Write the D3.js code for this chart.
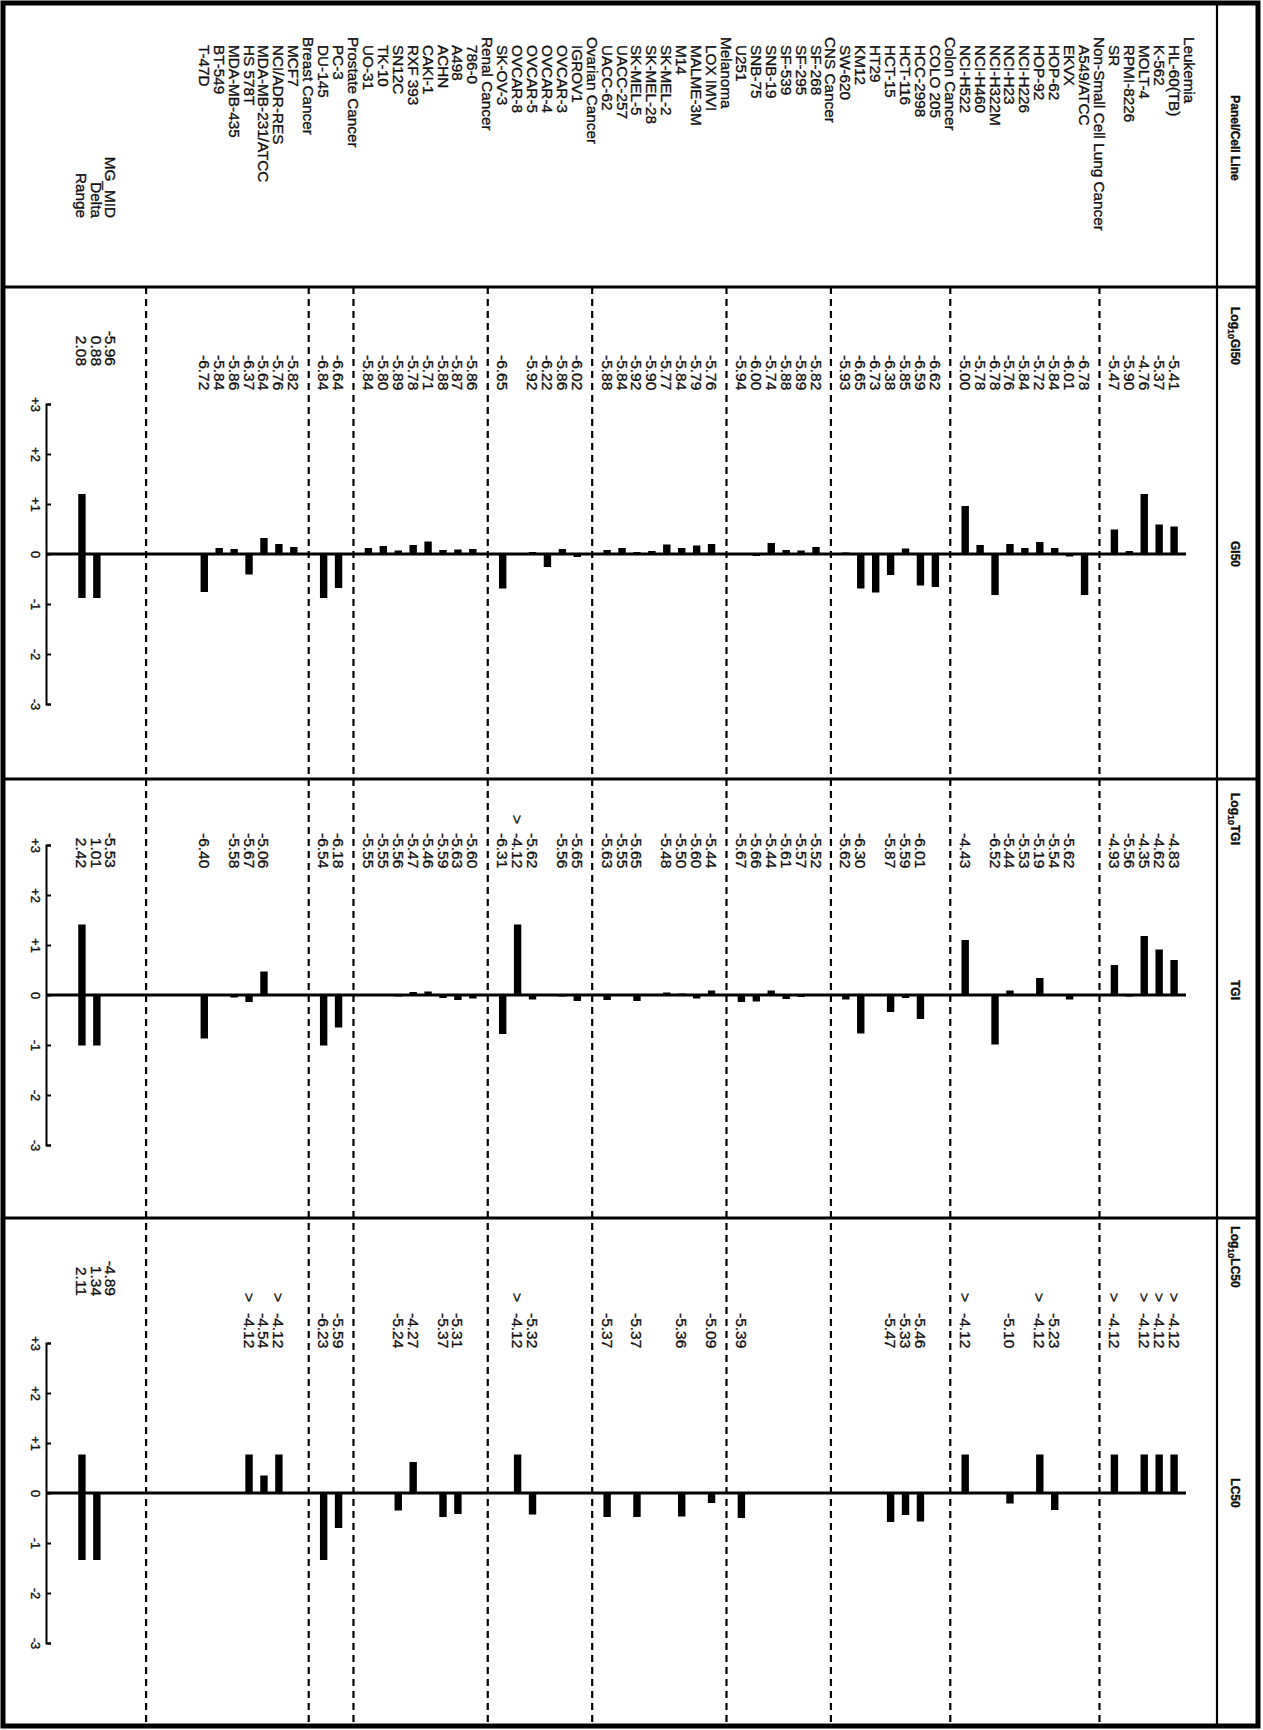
<!DOCTYPE html>
<html><head><meta charset="utf-8">
<script src="https://cdn.jsdelivr.net/npm/d3@7"></script>
<style>body{margin:0;background:#fff}svg{display:block}text{font-family:"Liberation Sans",Arial,Helvetica,sans-serif;fill:#111;stroke:#111;stroke-width:0.35px}</style>
</head><body><svg id="c" width="1263" height="1730"></svg>
<script>
// ---------- DATA ----------
const panelNames = ["Leukemia","Non-Small Cell Lung Cancer","Colon Cancer","CNS Cancer","Melanoma","Ovarian Cancer","Renal Cancer","Prostate Cancer","Breast Cancer"];
const leukemia = ["HL-60(TB)","K-562","MOLT-4","RPMI-8226","SR"];
const nsclc = ["A549/ATCC","EKVX","HOP-62","HOP-92","NCI-H226","NCI-H23","NCI-H322M","NCI-H460","NCI-H522"];
const colon = ["COLO 205","HCC-2998","HCT-116","HCT-15","HT29","KM12","SW-620"];
const cns = ["SF-268","SF-295","SF-539","SNB-19","SNB-75","U251"];
const melanoma = ["LOX IMVI","MALME-3M","M14","SK-MEL-2","SK-MEL-28","SK-MEL-5","UACC-257","UACC-62"];
const ovarian = ["IGROV1","OVCAR-3","OVCAR-4","OVCAR-5","OVCAR-8","SK-OV-3"];
const renal = ["786-0","A498","ACHN","CAKI-1","RXF 393","SN12C","TK-10","UO-31"];
const prostate = ["PC-3","DU-145"];
const breast = ["MCF7","NCI/ADR-RES","MDA-MB-231/ATCC","HS 578T","MDA-MB-435","BT-549","T-47D"];
const panelCells = [leukemia, nsclc, colon, cns, melanoma, ovarian, renal, prostate, breast];

// log10 GI50 (null = not reported)
const gi50 = [
  -5.41,-5.37,-4.76,-5.90,-5.47,
  -6.78,-6.01,-5.84,-5.72,-5.84,-5.76,-6.78,-5.78,-5.00,
  -6.62,-6.59,-5.85,-6.38,-6.73,-6.65,-5.93,
  -5.82,-5.89,-5.88,-5.74,-6.00,-5.94,
  -5.76,-5.79,-5.84,-5.77,-5.90,-5.92,-5.84,-5.88,
  -6.02,-5.86,-6.22,-5.92,null,-6.65,
  -5.86,-5.87,-5.88,-5.71,-5.78,-5.89,-5.80,-5.84,
  -6.64,-6.84,
  -5.82,-5.76,-5.64,-6.37,-5.86,-5.84,-6.72
];
// log10 TGI
const tgi = [
  -4.83,-4.62,-4.35,-5.56,-4.93,
  null,-5.62,-5.54,-5.19,-5.53,-5.44,-6.52,null,-4.43,
  null,-6.01,-5.59,-5.87,null,-6.30,-5.62,
  -5.52,-5.57,-5.61,-5.44,-5.66,-5.67,
  -5.44,-5.60,-5.50,-5.48,null,-5.65,-5.55,-5.63,
  -5.65,-5.56,null,-5.62,-4.12,-6.31,
  -5.60,-5.63,-5.59,-5.46,-5.47,-5.56,-5.55,-5.55,
  -6.18,-6.54,
  null,null,-5.06,-5.67,-5.58,null,-6.40
];
// log10 LC50
const lc50 = [
  -4.12,-4.12,-4.12,null,-4.12,
  null,null,-5.23,-4.12,null,-5.10,null,null,-4.12,
  null,-5.46,-5.33,-5.47,null,null,null,
  null,null,null,null,null,-5.39,
  -5.09,null,-5.36,null,null,-5.37,null,-5.37,
  null,null,null,-5.32,-4.12,null,
  null,-5.31,-5.37,null,-4.27,-5.24,null,null,
  -5.59,-6.23,
  null,-4.12,-4.54,-4.12,null,null,null
];
// cell lines whose value is reported as "> value"
const tgiAbove = ["OVCAR-8"];
const lc50Above = ["HL-60(TB)","K-562","MOLT-4","SR","HOP-92","NCI-H522","OVCAR-8","NCI/ADR-RES","HS 578T"];

const summaryLabels = ["MG_MID","Delta","Range"];
const gi50Summary = [-5.96, 0.88, 2.08];
const tgiSummary  = [-5.53, 1.01, 2.42];
const lc50Summary = [-4.89, 1.34, 2.11];

const axisTicks = [3,2,1,0,-1,-2,-3];
const axisTickLabels = ["+3","+2","+1","0","-1","-2","-3"];

// ---------- LAYOUT ----------
const W = 1263, H = 1730;
const svg = d3.select("#c");
svg.append("rect").attr("width",W).attr("height",H).attr("fill","#fff");
// drawn in the original (portrait-page) frame, then turned a quarter turn clockwise
const g = svg.append("g").attr("transform",`translate(${W},0) rotate(90)`);
// in g: x = along the page (screen down), y = across rows (screen right-to-left)

const rowY = d3.scaleLinear().domain([0,1]).range([74, 74+14.92]);

const rows = [];
let r = 0, k = 0;
const sepRows = [];
panelNames.forEach((p, pi) => {
  rows.push({kind:"panel", name:p, row:r});
  if (pi > 0) sepRows.push(r);
  r++;
  panelCells[pi].forEach(c => { rows.push({kind:"cell", name:c, row:r, idx:k}); r++; k++; });
});
const lastRow = r - 1;
sepRows.push(lastRow + 3.9);
const sumRows = [lastRow + 6.3, lastRow + 7.2, lastRow + 8.2];
const cells = rows.filter(d => d.kind === "cell");

const xGI = d3.scaleLinear().domain([3,-3]).range([404,704]);
const xTGI = d3.scaleLinear().domain([3,-3]).range([845,1145]);
const xLC = d3.scaleLinear().domain([3,-3]).range([1343,1643]);

const Y0 = 5, Y1 = 1260;       // across page
const X0 = 3, X1 = 1726;       // along page
const hdrY = 46;
const axisY = W - 47;

// frame
g.append("rect").attr("x",X0).attr("y",Y0).attr("width",X1-X0).attr("height",Y1-Y0)
  .attr("fill","none").attr("stroke","#000").attr("stroke-width",5);
g.append("line").attr("x1",X0).attr("x2",X1).attr("y1",hdrY).attr("y2",hdrY)
  .attr("stroke","#000").attr("stroke-width",2.2);
[287, 779, 1218].forEach(x => g.append("line").attr("x1",x).attr("x2",x).attr("y1",Y0).attr("y2",Y1)
  .attr("stroke","#000").attr("stroke-width",3));

// dashed panel separators
g.selectAll(".sep").data(sepRows).join("line").attr("class","sep")
  .attr("x1",287).attr("x2",X1).attr("y1",d=>rowY(d)).attr("y2",d=>rowY(d))
  .attr("stroke","#000").attr("stroke-width",2.2).attr("stroke-dasharray","7,5");

// header band
const hdr = g.append("g").attr("font-size",12).attr("font-weight","bold");
hdr.append("text").attr("x",138).attr("y",28).attr("text-anchor","middle").attr("dominant-baseline","central").text("Panel/Cell Line");
function logHeader(x, name){
  const t = hdr.append("text").attr("x",x).attr("y",28).attr("text-anchor","middle").attr("dominant-baseline","central");
  t.append("tspan").text("Log");
  t.append("tspan").attr("font-size",9).attr("dy",4).text("10");
  t.append("tspan").attr("dy",-4).text(name);
}
logHeader(336,"GI50"); logHeader(819,"TGI"); logHeader(1257,"LC50");
[["GI50",554],["TGI",990],["LC50",1493]].forEach(([t,x]) =>
  hdr.append("text").attr("x",x).attr("y",28).attr("text-anchor","middle").attr("dominant-baseline","central").text(t));

// names column
const names = g.append("g").attr("font-size",15.3);
names.selectAll("text").data(rows).join("text")
  .attr("x", d => d.kind === "panel" ? 37 : 45)
  .attr("y", d => rowY(d.row)).attr("dominant-baseline","central").text(d => d.name);
names.selectAll(".sl").data(summaryLabels).join("text").attr("class","sl")
  .attr("x",218).attr("y",(d,i)=>rowY(sumRows[i])).attr("text-anchor","end")
  .attr("dominant-baseline","central").text(d=>d);

// value columns
function valueColumn(vals, above, startX, gtX, sumEnd, summary){
  const col = g.append("g").attr("font-size",15.5);
  const items = cells.filter(d => vals[d.idx] !== null);
  col.selectAll(".v").data(items).join("text").attr("class","v")
    .attr("x",startX).attr("y",d=>rowY(d.row)).attr("dominant-baseline","central")
    .text(d => vals[d.idx].toFixed(2));
  col.selectAll(".gt").data(items.filter(d => above.includes(d.name))).join("text").attr("class","gt")
    .attr("x",gtX).attr("y",d=>rowY(d.row)).attr("dominant-baseline","central").text(">");
  col.selectAll(".s").data(summary).join("text").attr("class","s")
    .attr("x",sumEnd).attr("y",(d,i)=>rowY(sumRows[i])).attr("text-anchor","end")
    .attr("dominant-baseline","central").text(d => d.toFixed(2));
}
valueColumn(gi50, [], 355, 340, 366, gi50Summary);
valueColumn(tgi, tgiAbove, 833, 815, 868, tgiSummary);
valueColumn(lc50, lc50Above, 1313, 1293, 1296, lc50Summary);

// bar charts
function barChart(vals, summary, x){
  const mid = summary[0], delta = summary[1], range = summary[2];
  const cg = g.append("g");
  const items = cells.filter(d => vals[d.idx] !== null).map(d => ({row:d.row, a:0, b:vals[d.idx]-mid}));
  items.push({row:sumRows[1], a:0, b:-delta});
  items.push({row:sumRows[2], a:-delta, b:-delta+range});
  cg.selectAll("rect").data(items).join("rect")
    .attr("x", d => Math.min(x(d.a), x(d.b))).attr("width", d => Math.abs(x(d.a)-x(d.b)))
    .attr("y", d => rowY(d.row)-3.7).attr("height",7.4).attr("fill","#000");
  cg.append("line").attr("x1",x(0)).attr("x2",x(0)).attr("y1",rowY(0.2)).attr("y2",axisY)
    .attr("stroke","#000").attr("stroke-width",3);
  const ax = d3.axisBottom(x).tickValues(axisTicks).tickSizeInner(-4).tickSizeOuter(-4).tickPadding(7)
    .tickFormat((d,i) => axisTickLabels[i]);
  const ag = cg.append("g").attr("transform",`translate(0,${axisY})`).call(ax);
  ag.select(".domain").attr("stroke","#000").attr("stroke-width",2);
  ag.selectAll(".tick line").attr("stroke","#000").attr("stroke-width",2);
  ag.selectAll(".tick text").attr("font-size",13).attr("font-family","Liberation Sans, Arial, sans-serif")
    .attr("fill","#111").attr("stroke","#111").attr("stroke-width",0.3);
}
barChart(gi50, gi50Summary, xGI);
barChart(tgi, tgiSummary, xTGI);
barChart(lc50, lc50Summary, xLC);
</script>
</body></html>
